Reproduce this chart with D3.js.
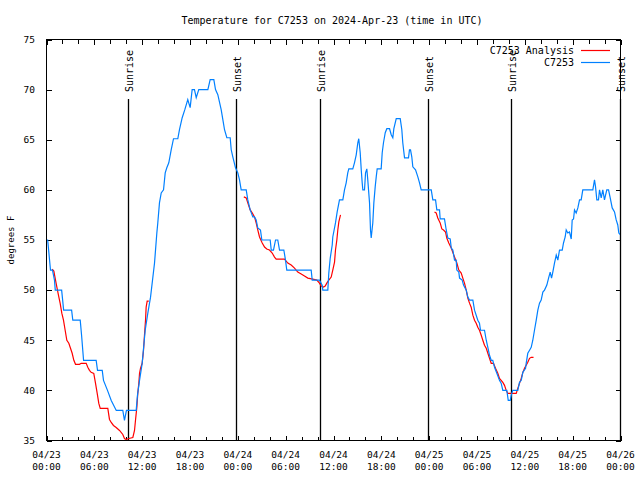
<!DOCTYPE html>
<html><head><meta charset="utf-8">
<script src="https://cdn.jsdelivr.net/npm/d3@7"></script>
<style>body{margin:0;background:#fff}svg{display:block}</style>
</head><body><svg id="c" width="640" height="480"></svg>
<script>
// ---- data (hours since 2024-04-23 00:00 UTC, degrees F) ----
const titleText = "Temperature for C7253 on 2024-Apr-23 (time in UTC)";
const yLabel = "degrees F";
const yTicks = [35, 40, 45, 50, 55, 60, 65, 70, 75];
const xMajorHours = [0, 6, 12, 18, 24, 30, 36, 42, 48, 54, 60, 66, 72];
const xMinorHours = [2, 4, 8, 10, 14, 16, 20, 22, 26, 28, 32, 34, 38, 40, 44, 46, 50, 52, 56, 58, 62, 64, 68, 70];
const sunLabels = ["Sunrise", "Sunset", "Sunrise", "Sunset", "Sunrise", "Sunset"];
const sunHours = [10.2, 23.75, 34.25, 47.85, 58.25, 71.98];
const seriesNames = ["C7253 Analysis", "C7253"];

const obsC7253 = [[0,55],[0.15,55],[0.5,52],[0.75,52],[1.0,51],[1.1,50],[1.9,50],[2.15,48],[3.15,48],[3.3,47],[4.23,47],[4.4,45.5],[4.65,43],[6.23,43],[6.4,42],[6.99,42],[7.15,41],[7.65,40],[8.12,39],[8.75,38],[9.57,38],[9.78,37],[10.03,38],[11.25,38],[11.41,39.5],[11.67,41],[12.0,42.7],[12.38,46],[12.71,47.7],[13.05,49.3],[13.55,52.7],[13.84,55.7],[13.96,56.7],[14.17,58.7],[14.39,59.7],[14.68,60],[14.89,61.7],[15.09,62.2],[15.34,62.7],[15.64,64],[15.93,65.1],[16.47,65.1],[16.68,66],[17.02,67.2],[17.35,68],[17.72,69],[18.02,68.2],[18.27,70],[18.56,70],[18.78,69.2],[19.1,70],[20.24,70],[20.53,71],[20.99,71],[21.2,70],[21.49,69.5],[21.91,68],[22.12,67],[22.33,66],[22.62,65.2],[23.04,65.2],[23.17,64],[23.37,63.3],[23.71,62.2],[24.0,61.7],[24.21,61],[24.42,60],[25.05,60],[25.25,59],[25.55,58],[25.88,57.3],[26.09,57.3],[26.3,57],[26.5,56.2],[26.84,56],[27.01,55],[28.06,55],[28.19,54],[28.47,54],[28.73,55],[29.01,55],[29.23,54],[29.77,54],[29.98,53],[30.14,52],[33.2,52],[33.33,51],[34.24,51],[34.58,50.5],[34.66,50],[35.29,50],[35.41,51.7],[35.59,53.2],[35.84,54.5],[35.91,55.3],[36.25,56.7],[36.46,57.8],[36.75,59],[37.17,59],[37.38,60],[37.59,60.7],[37.79,61.7],[37.92,62.1],[38.42,62.1],[38.63,62.7],[38.85,63.5],[39.05,64.7],[39.17,65.1],[39.35,63.7],[39.48,62],[39.6,60.7],[39.68,60],[39.89,60],[40.02,61.7],[40.18,62.1],[40.3,61],[40.52,58.7],[40.64,56],[40.73,55.2],[40.86,56.2],[40.93,56.7],[41.06,58.7],[41.23,60.3],[41.36,61.3],[41.48,62.1],[41.98,62.1],[42.11,63.7],[42.27,64.7],[42.49,65.7],[42.69,66.1],[43.03,66.1],[43.24,65.5],[43.44,65.2],[43.57,66.1],[43.87,67.1],[44.37,67.1],[44.57,66],[44.69,64.7],[44.91,63.2],[45.41,63.2],[45.53,64],[45.66,64],[45.82,63.3],[45.95,62.3],[46.29,62],[46.58,61.3],[46.79,60.7],[47.0,60],[48.26,60],[48.46,59],[48.8,59],[48.96,58],[49.3,58],[49.38,57.1],[49.92,57.1],[50.14,56],[50.34,55.2],[50.64,55.1],[50.77,54.2],[50.97,54],[51.18,53],[51.39,53],[51.47,52],[51.72,51.8],[51.81,51.2],[52.14,51],[52.31,50.5],[52.65,50],[52.85,49.3],[53.06,49],[53.48,49],[53.69,48],[54.1,47],[54.31,46.7],[54.44,46],[54.94,46],[55.16,45],[55.36,44.3],[55.57,43.5],[55.78,43],[55.98,43],[56.2,42.3],[56.49,41.7],[56.82,41],[57.04,40.7],[57.24,40],[57.74,40],[57.92,39],[58.17,39],[58.29,39.5],[58.49,40],[59.12,40],[59.33,40.8],[59.55,41],[59.75,41.8],[60.09,42.2],[60.17,42.7],[60.37,43.7],[60.59,44],[60.8,44.3],[61.0,45],[61.21,46],[61.43,47],[61.63,48],[61.84,48.7],[62.05,49],[62.26,49.8],[62.47,50],[62.76,50.5],[63.01,51.3],[63.18,51.8],[63.35,51.2],[63.51,51.8],[63.72,52.7],[63.94,53.5],[64.14,53],[64.35,54],[64.69,54],[64.85,54.7],[65.06,55.3],[65.19,56],[65.39,55.7],[65.6,55.8],[65.82,55.1],[65.94,57],[66.11,57.1],[66.23,58],[66.44,57.7],[66.65,58.2],[66.86,59],[67.07,59],[67.27,60],[68.53,60],[68.74,61],[68.87,60.3],[69.03,59],[69.24,59],[69.37,60],[69.58,59.2],[69.78,60],[69.99,59],[70.28,60],[70.5,60],[70.71,59.2],[70.96,58.2],[71.25,57.8],[71.46,57],[71.66,56.5],[71.79,55.7],[72.0,55.5]];

const analysisDay1 = [[0.71,52.1],[0.92,51.9],[1.13,51],[1.3,50.3],[1.55,49.3],[1.71,48.7],[1.92,47.7],[2.13,47],[2.34,46],[2.55,45],[2.8,44.7],[3.01,44.2],[3.22,43.7],[3.43,43],[3.64,42.6],[4.14,42.6],[4.35,42.7],[4.98,42.7],[5.18,42.3],[5.39,42],[5.6,41.8],[5.93,41.7],[6.15,40.7],[6.36,39.7],[6.56,38.7],[6.74,38.2],[7.69,38.2],[7.9,37.1],[8.12,36.8],[8.4,36.5],[8.74,36.3],[9.16,36],[9.57,35.6],[9.78,35.2],[10.0,35.1],[10.32,35.2],[10.83,35.3],[11.04,36],[11.16,37],[11.33,38.3],[11.45,39.7],[11.58,40.7],[11.67,41.7],[11.79,42.2],[12.0,42.7],[12.17,44],[12.29,45.5],[12.42,47],[12.5,48.3],[12.63,48.9],[12.83,48.9]];
const analysisDay2 = [[24.75,59.3],[25.05,59.2],[25.25,58.7],[25.55,58],[25.8,57.7],[26.09,57.3],[26.3,56.7],[26.5,56],[26.72,55.3],[27.06,54.7],[27.35,54.3],[27.63,54.1],[27.97,54],[28.31,53.7],[28.6,53.3],[28.81,53.1],[29.85,53.1],[30.27,52.7],[30.69,52.5],[31.11,52.2],[31.52,51.8],[31.95,51.6],[32.36,51.4],[32.78,51.2],[33.4,51.1],[33.91,51],[34.24,50.7],[34.46,50.4],[34.75,50.3],[34.96,50.4],[35.16,50.7],[35.41,51],[35.71,51.3],[35.91,52],[36.13,52.8],[36.25,54],[36.42,55],[36.54,56],[36.67,56.8],[36.88,57.5]];
const analysisDay3 = [[48.67,57.8],[48.88,57.7],[49.08,57.2],[49.38,56.7],[49.59,56.1],[49.8,56],[50.05,55.8],[50.21,55.2],[50.46,54.7],[50.77,54.2],[51.18,53.3],[51.47,52.7],[51.72,52],[52.02,51.7],[52.22,51.2],[52.43,50.7],[52.65,50],[52.85,49.2],[53.06,48.7],[53.27,48.3],[53.48,47.5],[53.69,47],[53.9,46.7],[54.1,46.3],[54.31,46],[54.53,45.5],[54.73,45],[54.94,44.5],[55.16,44.2],[55.36,43.7],[55.57,43.2],[55.78,42.7],[56.07,42.7],[56.32,42.2],[56.61,41.7],[56.82,41.2],[57.24,40.8],[57.45,40.5],[57.66,40],[57.86,39.7],[58.92,39.7],[59.12,40.2],[59.33,40.7],[59.55,41.2],[59.75,41.8],[59.96,42.2],[60.17,42.5],[60.37,42.8],[60.59,43.2],[60.8,43.3],[61.09,43.3]];

// ---- drawing ----
const startMs = Date.UTC(2024, 3, 23);
const toDate = h => new Date(startMs + h * 3600e3);
const svg = d3.select("#c");
const L = 46.5, R = 620.5, T = 39.5, B = 440.5;
const FONT = "'DejaVu Sans Mono', monospace";
const blue = "#0080ff", red = "#ff0000";

const x = d3.scaleUtc().domain([toDate(0), toDate(72)]).range([L, R]);
const y = d3.scaleLinear().domain([35, 75]).range([B, T]);

// ticks (inward, mirrored)
function ticks(axisFn, vals, transform, size) {
  const g = svg.append("g").attr("transform", transform)
    .call(axisFn.tickValues(vals).tickSizeInner(size).tickSizeOuter(0).tickFormat(""));
  g.select(".domain").remove();
  g.selectAll("line").attr("stroke", "#000").attr("stroke-width", 1).attr("shape-rendering", "crispEdges");
  return g;
}
const xMaj = xMajorHours.map(toDate), xMin = xMinorHours.map(toDate);
ticks(d3.axisBottom(x), xMaj, `translate(0,${B})`, -5);
ticks(d3.axisBottom(x), xMin, `translate(0,${B})`, -4);
ticks(d3.axisTop(x), xMaj, `translate(0,${T})`, -5);
ticks(d3.axisTop(x), xMin, `translate(0,${T})`, -4);
ticks(d3.axisLeft(y), yTicks, `translate(${L},0)`, -5);
ticks(d3.axisRight(y), yTicks, `translate(${R},0)`, -5);

// y tick labels
svg.append("g").selectAll("text").data(yTicks).join("text")
  .attr("x", 35).attr("y", d => y(d)).attr("dy", "0.35em")
  .attr("text-anchor", "end").attr("font-family", FONT).attr("font-size", 9.5)
  .text(d => d);

// x tick labels (two lines)
const fmtD = d3.utcFormat("%m/%d"), fmtT = d3.utcFormat("%H:%M");
const xl = svg.append("g").selectAll("text").data(xMaj).join("text")
  .attr("text-anchor", "middle").attr("font-family", FONT).attr("font-size", 9.5);
xl.append("tspan").attr("x", d => x(d)).attr("y", 458).text(d => fmtD(d));
xl.append("tspan").attr("x", d => x(d)).attr("y", 470).text(d => fmtT(d));

// sunrise / sunset lines
sunHours.forEach((h, i) => {
  const sx = Math.round(x(toDate(h))) + 0.5;
  svg.append("line").attr("x1", sx).attr("x2", sx).attr("y1", 99).attr("y2", B)
    .attr("stroke", "#000").attr("stroke-width", 1.3);
  svg.append("text").attr("transform", `translate(${sx + 4.5},92) rotate(-90)`)
    .attr("font-family", FONT).attr("font-size", 10).text(sunLabels[i]);
});

// series
const line = d3.line().x(d => x(toDate(d[0]))).y(d => y(d[1]));
[analysisDay1, analysisDay2, analysisDay3].forEach(seg => {
  svg.append("path").datum(seg).attr("d", line).attr("fill", "none")
    .attr("stroke", red).attr("stroke-width", 1.2);
});
svg.append("path").datum(obsC7253).attr("d", line).attr("fill", "none")
  .attr("stroke", blue).attr("stroke-width", 1.2);

// frame
svg.append("rect").attr("x", L).attr("y", T).attr("width", R - L).attr("height", B - T)
  .attr("fill", "none").attr("stroke", "#000").attr("stroke-width", 1).attr("shape-rendering", "crispEdges");

// legend
const legColors = [red, blue];
seriesNames.forEach((n, i) => {
  const ly = 50 + i * 12;
  svg.append("text").attr("x", 574).attr("y", ly).attr("dy", "0.35em")
    .attr("text-anchor", "end").attr("font-family", FONT).attr("font-size", 10).text(n);
  svg.append("line").attr("x1", 581).attr("x2", 610).attr("y1", ly + 0.5).attr("y2", ly + 0.5)
    .attr("stroke", legColors[i]).attr("stroke-width", 1.2);
});

// title and y label
svg.append("text").attr("x", 332).attr("y", 20).attr("dy", "0.35em").attr("text-anchor", "middle")
  .attr("font-family", FONT).attr("font-size", 10).text(titleText);
svg.append("text").attr("transform", "translate(14,240) rotate(-90)").attr("text-anchor", "middle")
  .attr("font-family", FONT).attr("font-size", 9).text(yLabel);
</script></body></html>
